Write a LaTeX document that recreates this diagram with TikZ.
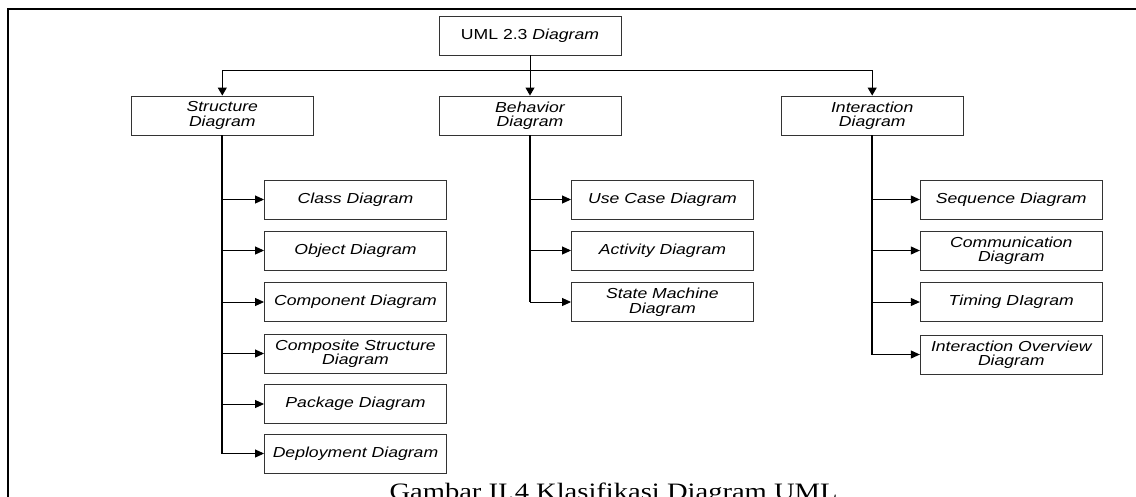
\documentclass[tikz,border=0pt]{standalone}
\usepackage{fontspec}
\usetikzlibrary{arrows.meta}
% Slightly widened faces, as in the printed figure
\newfontfamily\boxfont[FakeStretch=1.215]{Liberation Sans}
\newfontfamily\capfont[FakeStretch=1.215]{Liberation Serif}

\begin{document}
\begin{tikzpicture}[x=1pt,y=-1pt,
  box/.style={draw=black!80, line width=0.9pt, fill=white,
    minimum width=182pt, minimum height=39pt, inner sep=0pt, align=center,
    font={\boxfont\fontsize{14.5pt}{14.5pt}\selectfont}},
  kind/.style={box, font={\boxfont\fontsize{14.5pt}{14.5pt}\selectfont\itshape}},
  link/.style={line width=0.9pt, -{Triangle[length=8pt,width=9pt]}},
  trunk/.style={line width=1.8pt},
  branch/.style={line width=0.9pt, -{Triangle[length=9pt,width=8pt]}}]

\useasboundingbox (0,0) rectangle (1136,496);

% outer frame (only its top and left edges fall on the page)
\draw[line width=2pt] (7.5,510) -- (7.5,8.5) -- (1150,8.5);

% root and the three families
\node[box] (uml) at (530,35.5) {UML 2.3 \textit{Diagram}};
\node[kind] (str) at (222.3,115.5) {Structure\\Diagram};
\node[kind] (beh) at (530,115.5) {Behavior\\Diagram};
\node[kind] (int) at (872.2,115.5) {Interaction\\Diagram};

\coordinate (bus) at (530,70.3);
\draw[link] (uml.south) -- (beh.north);
\draw[link] (bus) -| (str.north);
\draw[link] (bus) -| (int.north);

% structure diagrams
\node[kind] (cls) at (355.5,199.5) {Class Diagram};
\node[kind] (obj) at (355.5,250.5) {Object Diagram};
\node[kind] (cmp) at (355.5,302) {Component Diagram};
\node[kind] (cst) at (355.5,353.5) {Composite Structure\\Diagram};
\node[kind] (pkg) at (355.5,404) {Package Diagram};
\node[kind] (dep) at (355.5,453.5) {Deployment Diagram};

% behavior diagrams
\node[kind] (use) at (662.5,199.5) {Use Case Diagram};
\node[kind] (act) at (662.5,250.5) {Activity Diagram};
\node[kind] (stm) at (662.5,302) {State Machine\\Diagram};

% interaction diagrams
\node[kind] (seq) at (1011.3,199.5) {Sequence Diagram};
\node[kind] (com) at (1011.3,250.5) {Communication\\Diagram};
\node[kind] (tim) at (1011.3,302) {Timing DIagram};
\node[kind] (ovr) at (1011.3,354.5) {Interaction Overview\\Diagram};

% trunks
\draw[trunk] (str.south) -- (str.south |- dep.west);
\draw[trunk] (beh.south) -- (beh.south |- stm.west);
\draw[trunk] (int.south) -- (int.south |- ovr.west);

% branches
\foreach \c in {cls,obj,cmp,cst,pkg,dep}
  \draw[branch] (str.south |- \c.west) -- (\c.west);
\foreach \c in {use,act,stm}
  \draw[branch] (beh.south |- \c.west) -- (\c.west);
\foreach \c in {seq,com,tim,ovr}
  \draw[branch] (int.south |- \c.west) -- (\c.west);

% caption
\node[anchor=base, inner sep=0pt, font={\capfont\fontsize{23.5pt}{26pt}\selectfont}]
  (cap) at (613.5,499.5) {Gambar II.4 Klasifikasi Diagram UML};
\end{tikzpicture}
\end{document}
